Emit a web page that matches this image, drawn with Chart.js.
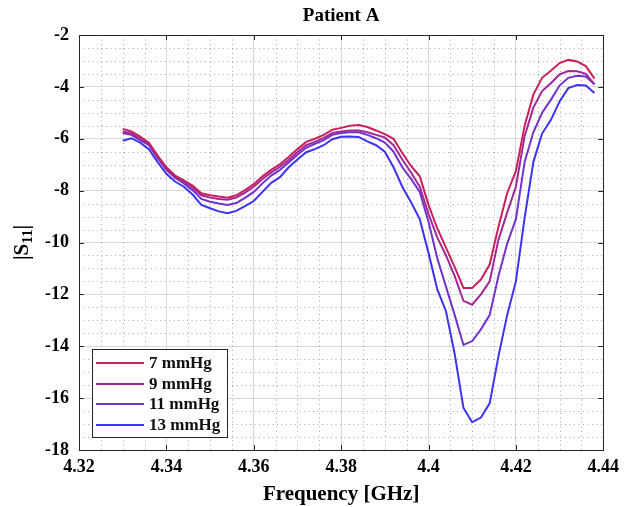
<!DOCTYPE html>
<html>
<head>
<meta charset="utf-8">
<script src="https://cdn.jsdelivr.net/npm/chart.js@4"></script>
<style>
html,body{margin:0;padding:0;background:#fff;}
#wrap{width:626px;height:507px;position:relative;}
</style>
</head>
<body>
<div id="wrap"><canvas id="c" width="626" height="507"></canvas></div>
<script>
const frequencies = [4.330,4.332,4.334,4.336,4.338,4.340,4.342,4.344,4.346,4.348,4.350,4.352,4.354,4.356,4.358,4.360,4.362,4.364,4.366,4.368,4.370,4.372,4.374,4.376,4.378,4.380,4.382,4.384,4.386,4.388,4.390,4.392,4.394,4.396,4.398,4.400,4.402,4.404,4.406,4.408,4.410,4.412,4.414,4.416,4.418,4.420,4.422,4.424,4.426,4.428,4.430,4.432,4.434,4.436,4.438];

const s7 = [-5.62,-5.72,-5.92,-6.15,-6.65,-7.10,-7.42,-7.60,-7.80,-8.10,-8.18,-8.23,-8.27,-8.18,-7.98,-7.75,-7.45,-7.20,-6.98,-6.70,-6.40,-6.12,-6.00,-5.85,-5.65,-5.58,-5.50,-5.47,-5.55,-5.68,-5.82,-6.00,-6.55,-7.05,-7.45,-8.55,-9.45,-10.20,-10.95,-11.75,-11.75,-11.43,-10.85,-9.40,-8.10,-7.25,-5.50,-4.30,-3.65,-3.38,-3.08,-2.96,-3.02,-3.20,-3.68];
const s9 = [-5.72,-5.80,-6.00,-6.20,-6.70,-7.15,-7.45,-7.65,-7.88,-8.18,-8.27,-8.32,-8.35,-8.27,-8.08,-7.85,-7.55,-7.30,-7.08,-6.82,-6.52,-6.25,-6.12,-5.97,-5.78,-5.72,-5.68,-5.68,-5.75,-5.85,-5.95,-6.25,-6.80,-7.30,-7.85,-8.90,-9.80,-10.50,-11.30,-12.25,-12.40,-12.00,-11.50,-9.90,-8.85,-7.85,-5.90,-4.80,-4.16,-3.86,-3.52,-3.39,-3.40,-3.50,-3.90];
const s11 = [-5.78,-5.85,-6.05,-6.25,-6.75,-7.20,-7.50,-7.72,-7.98,-8.32,-8.43,-8.50,-8.55,-8.48,-8.28,-8.05,-7.72,-7.42,-7.20,-6.92,-6.62,-6.35,-6.20,-6.05,-5.85,-5.78,-5.75,-5.75,-5.85,-5.98,-6.15,-6.50,-7.10,-7.55,-8.05,-9.20,-10.60,-11.70,-12.80,-13.95,-13.80,-13.35,-12.80,-11.30,-10.05,-9.10,-6.90,-5.75,-5.00,-4.50,-3.95,-3.65,-3.57,-3.60,-3.90];
const s13 = [-6.08,-5.98,-6.15,-6.40,-6.90,-7.35,-7.65,-7.85,-8.15,-8.55,-8.68,-8.80,-8.87,-8.78,-8.60,-8.40,-8.05,-7.70,-7.48,-7.10,-6.80,-6.52,-6.40,-6.25,-6.02,-5.92,-5.91,-5.93,-6.10,-6.25,-6.50,-7.10,-7.85,-8.45,-9.10,-10.40,-11.80,-12.65,-14.30,-16.38,-16.93,-16.75,-16.20,-14.40,-12.80,-11.50,-9.05,-6.90,-5.80,-5.28,-4.56,-4.05,-3.93,-3.95,-4.24];

const seriesLabels = ['7 mmHg','9 mmHg','11 mmHg','13 mmHg'];
const seriesColors = ['#c8215c','#a02898','#7232cc','#3c34f2'];
const xTicks = [4.32,4.34,4.36,4.38,4.40,4.42,4.44];
const yTicks = [-18,-16,-14,-12,-10,-8,-6,-4,-2];
const titleText = 'Patient A';
const xTitle = 'Frequency [GHz]';

const FONT = '"Liberation Serif", "Times New Roman", serif';
const allSeries = [s7,s9,s11,s13];
const datasets = allSeries.map((s,i)=>({
  label: seriesLabels[i],
  data: frequencies.map((f,j)=>({x:f,y:s[j]})),
  borderColor: seriesColors[i],
  backgroundColor: seriesColors[i],
  borderWidth: 2,
  pointRadius: 0,
  tension: 0,
  fill: false
}));

const decor = {
  id: 'decor',
  beforeDatasetsDraw(chart){
    const {ctx, chartArea:a, scales:{x,y}} = chart;
    ctx.save();
    ctx.strokeStyle = 'rgba(110,110,110,0.6)';
    ctx.lineWidth = 1;
    ctx.setLineDash([1,3.5]);
    for (let k=0;k<xTicks.length-1;k++){
      const step = (xTicks[k+1]-xTicks[k])/4;
      for (let m=1;m<4;m++){
        const px = Math.round(x.getPixelForValue(xTicks[k]+m*step))+0.5;
        ctx.beginPath(); ctx.moveTo(px,a.top); ctx.lineTo(px,a.bottom); ctx.stroke();
      }
    }
    for (let k=0;k<yTicks.length-1;k++){
      const step = (yTicks[k+1]-yTicks[k])/4;
      for (let m=1;m<4;m++){
        const py = Math.round(y.getPixelForValue(yTicks[k]+m*step))+0.5;
        ctx.beginPath(); ctx.moveTo(a.left,py); ctx.lineTo(a.right,py); ctx.stroke();
      }
    }
    ctx.restore();
  },
  afterDatasetsDraw(chart){
    const {ctx, chartArea:a, scales:{x,y}} = chart;
    ctx.save();
    ctx.strokeStyle = '#262626';
    ctx.lineWidth = 1;
    xTicks.forEach(v=>{
      const px = Math.round(x.getPixelForValue(v))+0.5;
      ctx.beginPath(); ctx.moveTo(px,a.bottom); ctx.lineTo(px,a.bottom-5); ctx.stroke();
      ctx.beginPath(); ctx.moveTo(px,a.top); ctx.lineTo(px,a.top+5); ctx.stroke();
    });
    yTicks.forEach(v=>{
      const py = Math.round(y.getPixelForValue(v))+0.5;
      ctx.beginPath(); ctx.moveTo(a.left,py); ctx.lineTo(a.left+5,py); ctx.stroke();
      ctx.beginPath(); ctx.moveTo(a.right,py); ctx.lineTo(a.right-5,py); ctx.stroke();
    });
    ctx.strokeRect(Math.round(a.left)+0.5, Math.round(a.top)+0.5, Math.round(a.right-a.left), Math.round(a.bottom-a.top));
    // legend
    const lx = 92, ly = 349, lw = 135, lh = 88;
    ctx.fillStyle = '#fff';
    ctx.fillRect(lx,ly,lw,lh);
    ctx.strokeStyle = '#262626';
    ctx.strokeRect(lx+0.5,ly+0.5,lw,lh);
    const rows = [363,384,404,425];
    ctx.font = 'bold 17px ' + FONT;
    ctx.textBaseline = 'middle';
    ctx.textAlign = 'left';
    chart.data.datasets.forEach((ds,i)=>{
      ctx.strokeStyle = ds.borderColor;
      ctx.lineWidth = 2;
      ctx.beginPath(); ctx.moveTo(96,rows[i]); ctx.lineTo(144,rows[i]); ctx.stroke();
      ctx.fillStyle = '#111';
      ctx.fillText(ds.label, 149, rows[i]+1);
    });
    // title
    ctx.font = 'bold 19px ' + FONT;
    ctx.textAlign = 'center';
    ctx.textBaseline = 'middle';
    ctx.fillStyle = '#000';
    ctx.fillText(titleText, (a.left+a.right)/2, 16);
    // y title |S11|
    ctx.translate(21, (a.top+a.bottom)/2);
    ctx.rotate(-Math.PI/2);
    ctx.textAlign = 'left';
    ctx.textBaseline = 'alphabetic';
    const big = 'bold 21px ' + FONT, small = 'bold 15px ' + FONT;
    ctx.font = big; const w1 = ctx.measureText('|S').width; const w3 = ctx.measureText('|').width;
    ctx.font = small; const w2 = ctx.measureText('11').width;
    let sx = -(w1+w2+w3)/2;
    ctx.font = big; ctx.fillText('|S', sx, 7);
    ctx.font = small; ctx.fillText('11', sx+w1, 11);
    ctx.font = big; ctx.fillText('|', sx+w1+w2, 7);
    ctx.restore();
  }
};

new Chart(document.getElementById('c'), {
  type: 'line',
  data: { datasets },
  options: {
    responsive: false,
    animation: false,
    layout: { padding: { top: 35, right: 22, left: 0, bottom: 0 } },
    plugins: { legend: { display: false }, title: { display: false }, tooltip: { enabled: false } },
    scales: {
      x: {
        type: 'linear', min: 4.32, max: 4.44,
        afterBuildTicks(s){ s.ticks = xTicks.map(v=>({value:v})); },
        afterFit(s){ s.height = 57; },
        grid: { color: '#d9d9d9', lineWidth: 1, drawTicks: false },
        border: { display: false },
        ticks: { padding: 7, color: '#000', font: { family: FONT, size: 18, weight: 'bold' },
          callback: v => String(parseFloat(v.toFixed(2))), maxRotation: 0, autoSkip: false },
        title: { display: true, text: xTitle, color: '#000', font: { family: FONT, size: 21, weight: 'bold' }, padding: { top: 0, bottom: 0 } }
      },
      y: {
        type: 'linear', min: -18, max: -2,
        afterBuildTicks(s){ s.ticks = yTicks.map(v=>({value:v})); },
        afterFit(s){ s.width = 79; },
        grid: { color: '#d9d9d9', lineWidth: 1, drawTicks: false },
        border: { display: false },
        ticks: { padding: 10, color: '#000', font: { family: FONT, size: 18, weight: 'bold' },
          callback: v => String(v) }
      }
    }
  },
  plugins: [decor]
});
</script>
</body>
</html>
